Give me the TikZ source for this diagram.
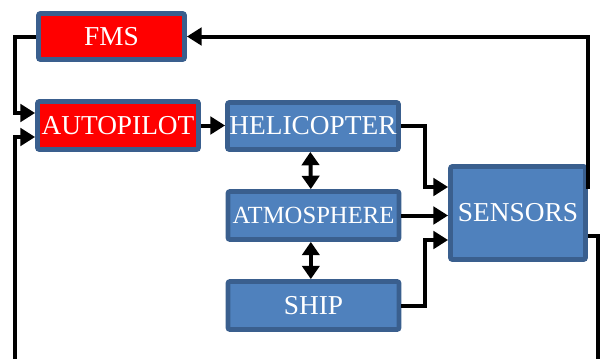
\documentclass[tikz,border=0pt]{standalone}
\usepackage{fontspec}
\setmainfont{Liberation Serif}
\usetikzlibrary{arrows.meta,calc}
\definecolor{boxblue}{HTML}{4F81BD}
\definecolor{boxborder}{HTML}{3A5F8E}
\definecolor{boxred}{HTML}{FF0000}
\tikzset{
  blk/.style={draw=boxborder, line width=3.6pt, rounded corners=1.5pt, text=white,
    inner sep=0pt, font=\rmfamily\fontsize{20.5}{22}\selectfont},
  bluebox/.style={blk, fill=boxblue},
  redbox/.style={blk, fill=boxred},
  conn/.style={line width=3pt, line join=miter},
  arr/.style={conn, -{Triangle[length=11pt,width=13pt]}},
  darr/.style={conn, {Triangle[length=10pt,width=13pt]}-{Triangle[length=10pt,width=13pt]}}
}
\begin{document}
\begin{tikzpicture}[x=0.75pt,y=-0.75pt]
\useasboundingbox (0,0) rectangle (600,358);
\clip (0,0) rectangle (600,358);
\node[redbox, minimum width=109.5pt, minimum height=34.5pt] (fms) at (111.5,36.5) {FMS};
\node[redbox, minimum width=120.75pt, minimum height=36pt] (autopilot) at (118,125.5) {AUTOPILOT};
\node[bluebox, minimum width=128.25pt, minimum height=35.25pt] (helicopter) at (313,126) {HELICOPTER};
\node[bluebox, minimum width=128.25pt, minimum height=36pt, font=\rmfamily\fontsize{18.5}{20}\selectfont] (atmosphere) at (313.5,215.5) {ATMOSPHERE};
\node[bluebox, minimum width=128.25pt, minimum height=36pt] (ship) at (313.5,305.5) {SHIP};
\node[bluebox, minimum width=101.25pt, minimum height=69.75pt] (sensors) at (518,213) {SENSORS};
\coordinate (rr) at (598,0);
\coordinate (ll) at (15,0);
\coordinate (botr) at (598,364);
\coordinate (botl) at (15,364);
% FMS -> autopilot
\draw[arr] (fms.west) -- (fms.west -| ll) |- ($(autopilot.west)+(0,-12.5)$);
% feedback loop
\draw[arr] ($(sensors.east)+(0,23)$) -| (botr) -- (botl) |- ($(autopilot.west)+(0,11.5)$);
% sensors -> FMS
\draw[arr] ($(sensors.east)+(0,-24)$) -- ($(sensors.east)+(0,-24)$ -| rr) |- (fms.east);
% autopilot -> helicopter
\draw[arr] (autopilot.east) -- (autopilot.east -| helicopter.west);
% to sensors
\draw[arr] (helicopter.east) -- ++(24,0) |- ($(sensors.west)+(0,-26)$);
\draw[arr] (atmosphere.east) -- (atmosphere.east -| sensors.west);
\draw[arr] (ship.east) -- ++(24,0) |- ($(sensors.west)+(0,27)$);
% double arrows
\draw[darr] ([xshift=-2pt]helicopter.south) -- ([xshift=-2pt]atmosphere.north);
\draw[darr] ([xshift=-2pt]atmosphere.south) -- ([xshift=-2pt]ship.north);
\end{tikzpicture}
\end{document}
